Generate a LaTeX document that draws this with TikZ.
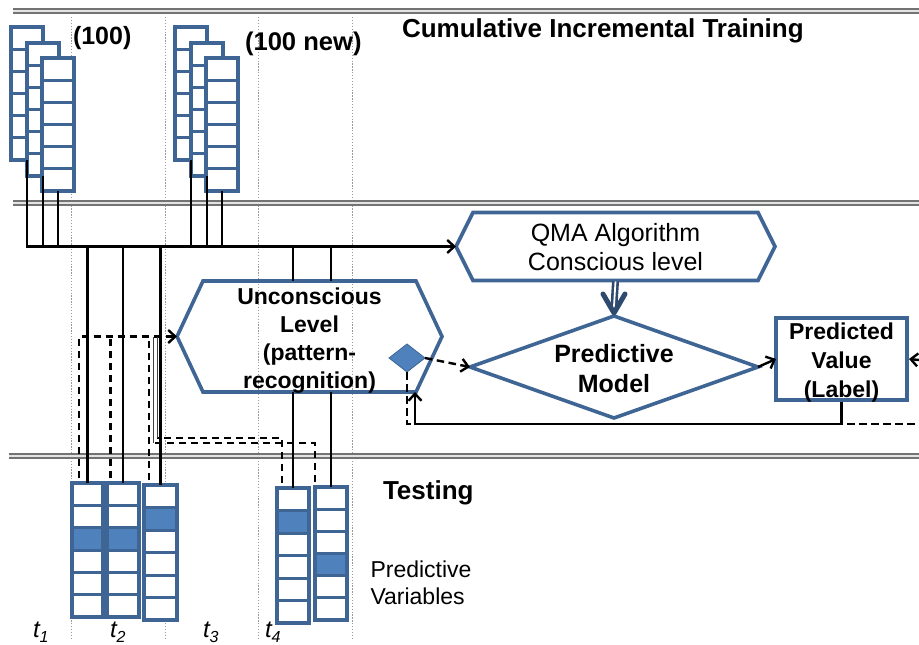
\documentclass[tikz,border=0pt]{standalone}
\usepackage{fontspec}
\setmainfont{Liberation Sans}
\usetikzlibrary{arrows.meta,calc}

\definecolor{boxblue}{HTML}{3F6594}
\definecolor{cellblue}{HTML}{4F81BD}
\definecolor{ruleGray}{HTML}{737373}
\definecolor{dotGray}{HTML}{9A9A9A}
\definecolor{dblue}{HTML}{2E4A6E}

% a column of six cells; #1 name, #2 left, #3 top, #4 width, #5 height, #6 shaded cell (0 = none)
\newcommand{\datacolumn}[6]{%
  \fill[white] (#2,#3) rectangle ++(#4,#5);
  \ifnum#6>0
    \fill[cellblue] (#2,{#3+(#6-1)*#5/6}) rectangle ++(#4,{#5/6});
  \fi
  \foreach \k in {1,...,5}{\draw[cellrule] (#2,{#3+\k*#5/6}) -- ++(#4,0);}
  \node[colframe, minimum width=#4, minimum height=#5] (#1) at ({#2+#4/2},{#3+#5/2}) {};
}

% elongated hexagon around a plain node; #2 = depth of the side points
\newcommand{\hexoutline}[2]{%
  \draw[hexbox] (#1.west) -- ([xshift=#2]#1.north west) -- ([xshift=-#2]#1.north east)
    -- (#1.east) -- ([xshift=-#2]#1.south east) -- ([xshift=#2]#1.south west) -- cycle;
}

\begin{document}
\begin{tikzpicture}[x=1pt,y=-1pt,
  rule/.style={draw=ruleGray, line width=1.6pt, double=ruleGray!20, double distance=2.2pt},
  guide/.style={draw=dotGray, line width=1pt, dash pattern=on 1.3pt off 1.6pt},
  wire/.style={draw=black, line width=2.4pt},
  dwire/.style={draw=black, line width=2.4pt, dash pattern=on 7.5pt off 4.5pt},
  thinwire/.style={draw=black!75, line width=0.9pt},
  tip/.style={-{Straight Barb[length=7pt,width=13pt]}},
  hexbox/.style={draw=boxblue, line width=3.6pt, line join=miter},
  colframe/.style={draw=boxblue, line width=3.4pt, inner sep=0pt, outer sep=0pt},
  cellrule/.style={draw=boxblue, line width=3pt},
  plain/.style={inner sep=0pt, outer sep=0pt},
  heading/.style={plain, anchor=base west, font=\bfseries\fontsize{25}{25}\selectfont},
  tlabel/.style={plain, anchor=base west, font=\itshape\fontsize{24}{24}\selectfont},
]
\useasboundingbox (0,0) rectangle (919,645);

% time guides
\foreach \gx in {71,165,258,352}{\draw[guide] (\gx,17) -- (\gx,640);}

% section rules
\draw[rule] (13,11) -- (919,11);
\draw[rule] (13,203) -- (919,203);
\draw[rule] (9,456) -- (919,456);

% training batches
\datacolumn{A1}{11}{27}{32}{133}{0}
\datacolumn{B1}{27}{43}{32}{133}{0}
\datacolumn{C1}{42}{58}{32}{133}{0}
\datacolumn{A2}{175}{27}{32}{133}{0}
\datacolumn{B2}{191}{43}{32}{133}{0}
\datacolumn{C2}{206}{58}{32}{133}{0}

% test vectors
\datacolumn{T1}{72}{483}{31}{134}{3}
\datacolumn{T2}{107}{483}{32}{134}{3}
\datacolumn{T3}{144}{485}{33}{135}{2}
\datacolumn{T4}{277}{488}{32}{135}{2}
\datacolumn{T5}{315}{487}{32}{133}{4}

% headings and labels
\node[heading, font=\bfseries\fontsize{26}{26}\selectfont] (title) at (402,37.5) {Cumulative Incremental Training};
\node[heading] (batch1) at (73,45) {(100)};
\node[heading, font=\bfseries\fontsize{25.6}{26}\selectfont] (batch2) at (245,50) {(100 new)};
\node[heading, font=\bfseries\fontsize{26}{26}\selectfont] (testing) at (383,499) {Testing};
\node[plain, align=left, font=\fontsize{23}{27}\selectfont] (predvars) at (421,583) {Predictive\\Variables};
\node[tlabel] (t1) at (33,637) {t\raisebox{-5pt}{\fontsize{16}{16}\selectfont 1}};
\node[tlabel] (t2) at (110,637) {t\raisebox{-5pt}{\fontsize{16}{16}\selectfont 2}};
\node[tlabel] (t3) at (203,637) {t\raisebox{-5pt}{\fontsize{16}{16}\selectfont 3}};
\node[tlabel] (t4) at (265,637) {t\raisebox{-5pt}{\fontsize{16}{16}\selectfont 4}};

% process nodes
\node[plain, minimum width=319, minimum height=68] (qma) at (615.5,246.5) {};
\hexoutline{qma}{17}
\node[plain, align=center, font=\fontsize{25}{29}\selectfont] (qmatext) at ([yshift=-1pt]qma.center) {QMA Algorithm\\Conscious level};

\node[plain, minimum width=265, minimum height=111] (unc) at (309.5,336.5) {};
\hexoutline{unc}{26}
\node[plain, align=center, font=\bfseries\fontsize{23}{28}\selectfont] (unctext) at ([yshift=-4pt]unc.center) {Unconscious\\Level\\(pattern-\\recognition)};

\node[plain, minimum width=288, minimum height=102] (pm) at (614,367) {};
\draw[hexbox] (pm.west) -- (pm.north) -- (pm.east) -- (pm.south) -- cycle;
\node[plain, align=center, font=\bfseries\fontsize{25}{30}\selectfont] (pmtext) at ([yshift=-1.5pt]pm.center) {Predictive\\Model};

\node[plain, minimum width=131, minimum height=82] (pv) at (841.5,359) {};
\draw[hexbox] (pv.north west) rectangle (pv.south east);
\node[plain, align=center, font=\bfseries\fontsize{23}{29}\selectfont] (pvtext) at ([yshift=-4pt]pv.center) {Predicted\\Value\\(Label)};

\node[plain, minimum width=36, minimum height=28] (sd) at (407,358) {};
\fill[cellblue, draw=boxblue, line width=0.8pt] (sd.west) -- (sd.north) -- (sd.east) -- (sd.south) -- cycle;

% training bus into the conscious level
\draw[wire, tip] (A1.south) |- (qma.west);
\foreach \s in {B1,C1,A2,B2,C2}{\draw[wire] (\s.south) -- (\s.south |- qma.west);}

% drops to the test vectors
\foreach \s in {T1,T2,T3}{\draw[wire] (\s.north |- qma.west) -- (\s.north);}
\foreach \s in {T4,T5}{
  \draw[wire] (\s.north |- qma.west) -- (\s.north |- unc.north);
  \draw[wire] (\s.north |- unc.south) -- (\s.north);
}

% dashed returns into the unconscious level
\coordinate (d1) at ([xshift=-8.5pt,yshift=5pt]T1.north);
\coordinate (d2) at ([xshift=-12.5pt,yshift=5pt]T2.north);
\coordinate (d3) at ([xshift=-11.5pt,yshift=5pt]T3.north);
\coordinate (d4) at ([xshift=-11pt,yshift=5pt]T4.north);
\coordinate (d5) at ([xshift=-16pt,yshift=5pt]T5.north);
\coordinate (k4) at (157,438);
\coordinate (k5) at (153,443);
\draw[dwire, tip] (d1) |- (unc.west);
\draw[dwire] (d2) -- (d2 |- unc.west);
\draw[dwire] (d3) -- (d3 |- unc.west);
\draw[dwire] (d4) |- (k4);
\draw[dwire] (d5) |- (k5);
\draw[thinwire] (k4) -- (k4 |- unc.west);
\draw[thinwire] (k5) -- (k5 |- unc.west);

% conscious level feeds the model
\draw[dblue, line width=2.6pt, double=white, double distance=1.8pt] ([yshift=-1pt]qma.south) -- ([yshift=10pt]pm.north);
\draw[dblue, line width=5pt, line cap=round, line join=round]
  ([xshift=-11pt,yshift=22pt]pm.north) -- ([yshift=3pt]pm.north) -- ([xshift=11pt,yshift=22pt]pm.north);

% model and feedback loop
\draw[dwire, tip] (sd.east) -- (pm.west);
\draw[wire, tip] (pm.east) -- (pv.west);
\coordinate (loopR) at (919,424);
\coordinate (edgeIn) at (919,360);
\draw[dwire] (sd.south) |- (loopR);
\draw[wire, tip] ([yshift=-2pt]pv.south) -- (pv.south |- loopR) -| ([xshift=-27pt]unc.south east);
\draw[wire, tip] (edgeIn) -- ([xshift=2pt]pv.east);
\end{tikzpicture}
\end{document}
